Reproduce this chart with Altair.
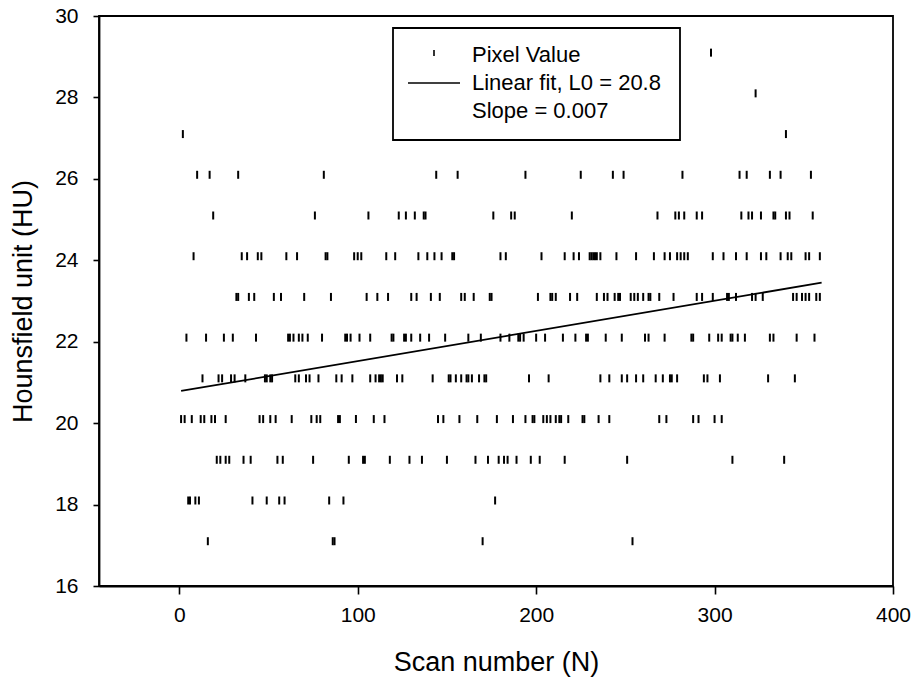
import altair as alt
import pandas as pd

# Scan numbers (N) at each observed pixel-value level (HU)
scans_29 = [298]
scans_28 = [323]
scans_27 = [2, 340]
scans_26 = [10, 17, 33, 81, 144, 156, 194, 225, 243, 249, 282, 314, 318, 331, 337, 354]
scans_25 = [19, 76, 106, 123, 127, 132, 137, 138, 176, 186, 188, 220, 268, 278, 280, 283,
            290, 293, 315, 319, 321, 326, 333, 334, 340, 342, 355]
scans_24 = [8, 35, 38, 44, 46, 60, 66, 82, 83, 98, 100, 102, 116, 121, 134, 139, 143, 147,
            153, 154, 180, 183, 203, 216, 221, 224, 230, 231, 232, 233, 234, 236, 245, 256,
            266, 272, 275, 279, 281, 283, 285, 299, 305, 312, 318, 326, 329, 337, 341, 343,
            351, 353, 359]
scans_23 = [32, 33, 39, 42, 53, 57, 70, 85, 105, 111, 117, 130, 133, 141, 146, 158, 160, 165,
            174, 175, 201, 208, 209, 211, 219, 223, 234, 238, 240, 244, 246, 247, 253, 255,
            257, 260, 263, 264, 269, 277, 290, 293, 299, 307, 308, 312, 321, 323, 327, 344,
            346, 349, 351, 353, 357, 359]
scans_22 = [4, 15, 25, 30, 43, 61, 62, 64, 67, 69, 72, 80, 93, 94, 96, 101, 107, 119, 120,
            126, 127, 130, 135, 140, 149, 162, 169, 180, 185, 190, 191, 193, 200, 205, 215,
            222, 228, 229, 239, 248, 261, 263, 272, 287, 288, 297, 302, 304, 309, 310, 313,
            317, 331, 333, 346, 356]
scans_21 = [13, 22, 24, 29, 31, 37, 48, 49, 51, 52, 65, 67, 71, 73, 78, 88, 91, 97, 107, 110,
            112, 113, 114, 122, 125, 142, 151, 152, 155, 158, 161, 162, 164, 168, 171, 172,
            196, 207, 236, 241, 248, 251, 256, 260, 267, 271, 275, 276, 279, 294, 296, 303,
            330, 345]
scans_20 = [1, 3, 7, 12, 14, 18, 20, 26, 45, 47, 51, 54, 63, 74, 77, 79, 89, 90, 99, 109,
            115, 145, 148, 157, 167, 178, 187, 194, 198, 199, 204, 206, 208, 211, 213, 214,
            218, 226, 227, 235, 241, 269, 273, 288, 291, 300, 304]
scans_19 = [21, 23, 26, 28, 36, 40, 55, 58, 75, 95, 103, 104, 118, 129, 136, 150, 166, 173,
            179, 182, 184, 189, 197, 202, 216, 251, 310, 339]
scans_18 = [5, 6, 9, 11, 41, 49, 56, 59, 84, 92, 177]
scans_17 = [16, 86, 87, 170, 254]

levels = [29.1, 28.1, 27.1, 26.1, 25.1, 24.1, 23.1, 22.1, 21.1, 20.1, 19.1, 18.1, 17.1]
level_scans = [scans_29, scans_28, scans_27, scans_26, scans_25, scans_24, scans_23,
               scans_22, scans_21, scans_20, scans_19, scans_18, scans_17]

# Linear fit line end points
fit_scan = [1, 360]
fit_hu = [20.79, 23.45]

x_ticks = [0, 100, 200, 300, 400]
y_ticks = [16, 18, 20, 22, 24, 26, 28, 30]

rows = []
for lv, sc in zip(levels, level_scans):
    for s in sc:
        rows.append({"scan": s, "hu": lv})
pts = pd.DataFrame(rows)
fit = pd.DataFrame({"scan": fit_scan, "hu": fit_hu})

FONT = "Liberation Sans"
xscale = alt.Scale(domain=[-45, 400], nice=False, zero=False)
yscale = alt.Scale(domain=[16, 30], nice=False, zero=False)

xaxis = alt.Axis(values=x_ticks, title="Scan number (N)", grid=False, tickSize=8,
                 labelPadding=10, titlePadding=24, labelFontSize=21, titleFontSize=27,
                 labelFlush=False)
yaxis = alt.Axis(values=y_ticks, title="Hounsfield unit (HU)", grid=False, tickSize=6,
                 labelPadding=15, titlePadding=17, labelFontSize=21, titleFontSize=27,
                 labelFlush=False)

ticks = alt.Chart(pts).mark_tick(color="black", thickness=2, size=8, orient="vertical",
                                 opacity=1).encode(
    x=alt.X("scan:Q", scale=xscale, axis=xaxis),
    y=alt.Y("hu:Q", scale=yscale, axis=yaxis),
)

line = alt.Chart(fit).mark_line(color="black", strokeWidth=1.8).encode(
    x=alt.X("scan:Q", scale=xscale),
    y=alt.Y("hu:Q", scale=yscale),
)

one = pd.DataFrame({"a": [0]})
box = alt.Chart(one).mark_rect(fill="white", stroke="black", strokeWidth=1.8).encode(
    x=alt.value(294), x2=alt.value(581), y=alt.value(12), y2=alt.value(124)
)
leg_tick = alt.Chart(one).mark_rule(color="black", strokeWidth=1.6).encode(
    x=alt.value(335), y=alt.value(34), y2=alt.value(40)
)
leg_line = alt.Chart(one).mark_rule(color="black", strokeWidth=1.5).encode(
    x=alt.value(309), x2=alt.value(361), y=alt.value(67)
)
leg_texts = pd.DataFrame({
    "t": ["Pixel Value", "Linear fit, L0 = 20.8", "Slope = 0.007"],
    "yy": [39, 67, 95],
})
leg_text = alt.Chart(leg_texts).mark_text(
    align="left", baseline="middle", font=FONT, fontSize=22, color="black"
).encode(
    x=alt.value(373), y=alt.Y("yy:Q", scale=None), text="t:N"
)

chart = alt.layer(ticks, line, box, leg_tick, leg_line, leg_text).properties(
    width=794, height=570,
    autosize=alt.AutoSizeParams(type="none"),
    padding={"left": 99, "top": 16, "right": 24, "bottom": 101},
    background="white",
).configure_view(
    stroke="black", strokeWidth=1.8
).configure_axis(
    domainColor="black", domainWidth=1.8, tickColor="black", tickWidth=1.6,
    labelColor="black", titleColor="black", labelFont=FONT, titleFont=FONT,
    titleFontWeight="normal"
)

chart.save("out.html", embed_options={"renderer": "svg", "actions": False})
